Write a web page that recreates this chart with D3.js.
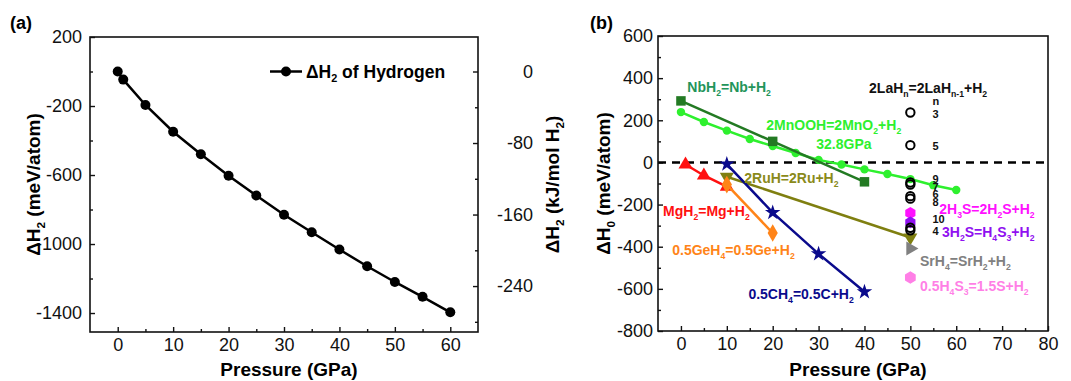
<!DOCTYPE html>
<html>
<head>
<meta charset="utf-8">
<script src="https://cdn.jsdelivr.net/npm/d3@7"></script>
<style>
body{margin:0;background:#fff;}
svg text{font-family:Arial,'Liberation Sans',sans-serif;}
</style>
</head>
<body>
<svg id="chart" width="1071" height="381"></svg>
<script>
// ---- panel (a) data
let h2Pressure = [0, 1, 5, 10, 15, 20, 25, 30, 35, 40, 45, 50, 55, 60];
let h2Enthalpy = [0, -47, -194, -349, -480, -604, -719, -830, -932, -1032, -1129, -1220, -1306, -1396];
let aXTicks = [0, 10, 20, 30, 40, 50, 60];
let aYTicks = [200, -200, -600, -1000, -1400];
let aY2Ticks = [0, -80, -160, -240];
let meVtoKJ = 0.19297; // meV/atom -> kJ/mol H2

// ---- panel (b) data
let nbPressure = [0, 20, 40];
let nbEnthalpy = [292, 100, -92];
let mnPressure = [0, 5, 10, 15, 20, 25, 30, 35, 40, 45, 50, 55, 60];
let mnEnthalpy = [239, 192, 151, 111, 78, 45, 12, -10, -33, -55, -79, -108, -131];
let mgPressure = [1, 5, 10];
let mgEnthalpy = [-10, -62, -115];
let gePressure = [10, 20];
let geEnthalpy = [-105, -335];
let chPressure = [10, 20, 30, 40];
let chEnthalpy = [-8, -238, -434, -614];
let ruPressure = [10, 50];
let ruEnthalpy = [-68, -356];
let laN = [3, 5, 9, 7, 6, 8, 10, 4];
let laEnthalpy = [237, 82, -95, -105, -160, -172, -310, -322];
let laPressure = 50;
let h3sPoint = [50, -240];
let h2sPoint = [50, -285];
let srPoint = [50, -408];
let h4s3Point = [50, -546];
let bXTicks = [0, 10, 20, 30, 40, 50, 60, 70, 80];
let bYTicks = [600, 400, 200, 0, -200, -400, -600, -800];

let svg = d3.select('#chart');
let fmt = d => String(d); // plain hyphen minus like the original

// text with {subscripts}
function richText(sel, str, fs) {
    let shift = 0;
    str.split(/(\{[^}]*\})/).forEach(function(p){
        if(!p) return;
        if(p[0] === '{'){
            sel.append('tspan').attr('dy', fs*0.28).style('font-size', (fs*0.62)+'px').text(p.slice(1,-1));
            shift = fs*0.28;
        }
        else{
            sel.append('tspan').attr('dy', -shift).text(p);
            shift = 0;
        }
    });
    return sel;
}

let hexagon = {
    draw: function(ctx, size){
        let r = Math.sqrt(size/2.598);
        for(let i=0;i<6;i++){
            let a = Math.PI/3*i - Math.PI/2;
            if(i===0) ctx.moveTo(r*Math.cos(a), r*Math.sin(a));
            else ctx.lineTo(r*Math.cos(a), r*Math.sin(a));
        }
        ctx.closePath();
    }
};

function frame(box){
    svg.append('rect')
        .attr('x', box.l).attr('y', box.t)
        .attr('width', box.r-box.l).attr('height', box.b-box.t)
        .attr('fill','none').attr('stroke','#111').attr('stroke-width',1.6);
}

function styleAxis(g, fs){
    g.select('.domain').remove();
    g.selectAll('line').attr('stroke','#111').attr('stroke-width',1.4);
    g.selectAll('text').style('font-size', fs+'px').attr('fill','#111');
}

// =============== panel (a)
let A = {l:90, r:478, t:37, b:332};
let xA = d3.scaleLinear().domain([-5,65]).range([A.l,A.r]);
let yA = d3.scaleLinear().domain([-1510,200]).range([A.b,A.t]);
let yA2 = d3.scaleLinear().domain([-1510*meVtoKJ, 200*meVtoKJ]).range([A.b,A.t]);

let gxA = svg.append('g').attr('transform','translate(0,'+A.b+')')
    .call(d3.axisBottom(xA).tickValues(aXTicks).tickSize(-5).tickPadding(6).tickFormat(fmt));
styleAxis(gxA, 18);
let gxAm = svg.append('g').attr('transform','translate(0,'+A.b+')')
    .call(d3.axisBottom(xA).tickValues(d3.range(5,60,10)).tickSize(-3).tickFormat(''));
styleAxis(gxAm, 18);

let gyA = svg.append('g').attr('transform','translate('+A.l+',0)')
    .call(d3.axisLeft(yA).tickValues(aYTicks).tickSize(-5).tickPadding(8).tickFormat(fmt));
styleAxis(gyA, 18);
let gyAm = svg.append('g').attr('transform','translate('+A.l+',0)')
    .call(d3.axisLeft(yA).tickValues([0,-400,-800,-1200]).tickSize(-3).tickFormat(''));
styleAxis(gyAm, 18);

let gyA2 = svg.append('g').attr('transform','translate('+A.r+',0)')
    .call(d3.axisRight(yA2).tickValues(aY2Ticks).tickSize(-5).tickPadding(8).tickFormat(fmt));
styleAxis(gyA2, 18);
gyA2.selectAll('text').attr('text-anchor','end').attr('x', 55);
let gyA2m = svg.append('g').attr('transform','translate('+A.r+',0)')
    .call(d3.axisRight(yA2).tickValues([-40,-120,-200,-280]).tickSize(-3).tickFormat(''));
styleAxis(gyA2m, 18);

frame(A);

let lineA = d3.line().x(d=>xA(d[0])).y(d=>yA(d[1]));
let h2Data = h2Pressure.map((p,i)=>[p, h2Enthalpy[i]]);
svg.append('path').datum(h2Data).attr('d', lineA)
    .attr('fill','none').attr('stroke','#000').attr('stroke-width',2.5);
svg.selectAll('.h2dot').data(h2Data).enter().append('circle')
    .attr('class','h2dot')
    .attr('cx', d=>xA(d[0])).attr('cy', d=>yA(d[1])).attr('r',5).attr('fill','#000');

// legend
let legY = yA(0);
svg.append('line').attr('x1',270).attr('x2',302).attr('y1',legY).attr('y2',legY)
    .attr('stroke','#000').attr('stroke-width',2.5);
svg.append('circle').attr('cx',286).attr('cy',legY).attr('r',5).attr('fill','#000');
richText(svg.append('text').attr('x',306).attr('y',legY+6).style('font-size','17.5px').style('font-weight','bold'),
    '\u0394H{2} of Hydrogen', 17.5);

svg.append('text').attr('x',10).attr('y',29).style('font-size','18px').style('font-weight','bold').text('(a)');

richText(svg.append('text').attr('text-anchor','middle')
    .attr('x', (A.l+A.r)/2+5).attr('y',376).style('font-size','19px').style('font-weight','bold'),
    'Pressure (GPa)', 19);
richText(svg.append('text').attr('text-anchor','middle')
    .attr('transform','translate(40,'+((A.t+A.b)/2)+') rotate(-90)')
    .style('font-size','19px').style('font-weight','bold'),
    '\u0394H{2} (meV/atom)', 19);
richText(svg.append('text').attr('text-anchor','middle')
    .attr('transform','translate(559,'+((A.t+A.b)/2)+') rotate(-90)')
    .style('font-size','19px').style('font-weight','bold'),
    '\u0394H{2} (kJ/mol H{2})', 19);

// =============== panel (b)
let B = {l:658, r:1048, t:36, b:331};
let xB = d3.scaleLinear().domain([-5,80]).range([B.l,B.r]);
let yB = d3.scaleLinear().domain([-800,600]).range([B.b,B.t]);

let gxB = svg.append('g').attr('transform','translate(0,'+B.b+')')
    .call(d3.axisBottom(xB).tickValues(bXTicks).tickSize(-5).tickPadding(6).tickFormat(fmt));
styleAxis(gxB, 18);
let gxBm = svg.append('g').attr('transform','translate(0,'+B.b+')')
    .call(d3.axisBottom(xB).tickValues(d3.range(5,80,10)).tickSize(-3).tickFormat(''));
styleAxis(gxBm, 18);
let gyB = svg.append('g').attr('transform','translate('+B.l+',0)')
    .call(d3.axisLeft(yB).tickValues(bYTicks).tickSize(-5).tickPadding(5).tickFormat(fmt));
styleAxis(gyB, 18);
let gyBm = svg.append('g').attr('transform','translate('+B.l+',0)')
    .call(d3.axisLeft(yB).tickValues(d3.range(-700,600,200)).tickSize(-3).tickFormat(''));
styleAxis(gyBm, 18);

// zero line
svg.append('line').attr('x1',B.l).attr('x2',B.r).attr('y1',yB(0)).attr('y2',yB(0))
    .attr('stroke','#000').attr('stroke-width',2.5).attr('stroke-dasharray','8,6');

frame(B);

let seriesB = [
    {p: mnPressure, v: mnEnthalpy, color:'#2ef02e', symbol:d3.symbolCircle, size:55, rot:0},
    {p: nbPressure, v: nbEnthalpy, color:'#237a23', symbol:d3.symbolSquare, size:90, rot:0},
    {p: ruPressure, v: ruEnthalpy, color:'#7f7f10', symbol:d3.symbolTriangle, size:85, rot:180},
    {p: mgPressure, v: mgEnthalpy, color:'#ff1010', symbol:d3.symbolTriangle, size:85, rot:0},
    {p: gePressure, v: geEnthalpy, color:'#ff8418', symbol:d3.symbolDiamond, size:90, rot:0},
    {p: chPressure, v: chEnthalpy, color:'#0a0a8c', symbol:d3.symbolStar, size:75, rot:0}
];

let lineB = d3.line().x(d=>xB(d[0])).y(d=>yB(d[1]));
seriesB.forEach(function(s){
    let data = s.p.map((p,i)=>[p, s.v[i]]);
    svg.append('path').datum(data).attr('d', lineB)
        .attr('fill','none').attr('stroke', s.color).attr('stroke-width',2.5);
    svg.append('g').selectAll('path').data(data).enter().append('path')
        .attr('transform', d=>'translate('+xB(d[0])+','+yB(d[1])+') rotate('+s.rot+')')
        .attr('d', d3.symbol().type(s.symbol).size(s.size))
        .attr('fill', s.color);
});

// single-point reactions
let singles = [
    {pt: h3sPoint, color:'#ff10ff', symbol:hexagon, size:90, rot:0},
    {pt: h2sPoint, color:'#9010f0', symbol:hexagon, size:90, rot:0},
    {pt: srPoint, color:'#808080', symbol:d3.symbolTriangle, size:85, rot:90},
    {pt: h4s3Point, color:'#ff7fe6', symbol:hexagon, size:100, rot:0}
];
singles.forEach(function(s){
    svg.append('path')
        .attr('transform','translate('+xB(s.pt[0])+','+yB(s.pt[1])+') rotate('+s.rot+')')
        .attr('d', d3.symbol().type(s.symbol).size(s.size))
        .attr('fill', s.color);
});

// LaH open circles
svg.append('g').selectAll('circle').data(laEnthalpy).enter().append('circle')
    .attr('cx', xB(laPressure)).attr('cy', d=>yB(d)).attr('r',4.2)
    .attr('fill','none').attr('stroke','#000').attr('stroke-width',2);

// n labels next to LaH circles
let laLabelText = ['n', '3', '5', '9', '7', '6', '8', '10', '4'];
let laLabelValue = [290, 230, 80, -78, -116, -152, -188, -268, -326];
svg.append('g').selectAll('text').data(laLabelText).enter().append('text')
    .attr('x', xB(54.8)).attr('y', (d,i)=>yB(laLabelValue[i])+4)
    .style('font-size','11px').style('font-weight','bold').attr('fill','#111')
    .text(d=>d);

// reaction labels
let labelsB = [
    {t:'NbH{2}=Nb+H{2}', p:1.4, v:334, c:'#23945a'},
    {t:'2MnOOH=2MnO{2}+H{2}', p:18.6, v:153, c:'#2ef02e'},
    {t:'32.8GPa', p:29.5, v:63, c:'#2ef02e'},
    {t:'2LaH{n}=2LaH{n-1}+H{2}', p:41, v:329, c:'#111'},
    {t:'2RuH=2Ru+H{2}', p:13.8, v:-98, c:'#8a8a1a'},
    {t:'MgH{2}=Mg+H{2}', p:-3.9, v:-255, c:'#ff1010'},
    {t:'0.5GeH{4}=0.5Ge+H{2}', p:-1.9, v:-440, c:'#ff8418'},
    {t:'0.5CH{4}=0.5C+H{2}', p:14.7, v:-649, c:'#0a0a8c'},
    {t:'2H{3}S=2H{2}S+H{2}', p:56.3, v:-245, c:'#ff10ff'},
    {t:'3H{2}S=H{4}S{3}+H{2}', p:56.9, v:-355, c:'#9010f0'},
    {t:'SrH{4}=SrH{2}+H{2}', p:52.1, v:-492, c:'#808080'},
    {t:'0.5H{4}S{3}=1.5S+H{2}', p:52.1, v:-610, c:'#ff7fe6'}
];
labelsB.forEach(function(l){
    richText(svg.append('text').attr('x', xB(l.p)).attr('y', yB(l.v))
        .style('font-size','14px').style('font-weight','bold').attr('fill', l.c), l.t, 14);
});

svg.append('text').attr('x',590).attr('y',29).style('font-size','18px').style('font-weight','bold').text('(b)');
richText(svg.append('text').attr('text-anchor','middle')
    .attr('x', (B.l+B.r)/2+5).attr('y',376).style('font-size','19px').style('font-weight','bold'),
    'Pressure (GPa)', 19);
richText(svg.append('text').attr('text-anchor','middle')
    .attr('transform','translate(610,'+((B.t+B.b)/2)+') rotate(-90)')
    .style('font-size','19px').style('font-weight','bold'),
    '\u0394H{0} (meV/atom)', 19);
</script>
</body>
</html>
